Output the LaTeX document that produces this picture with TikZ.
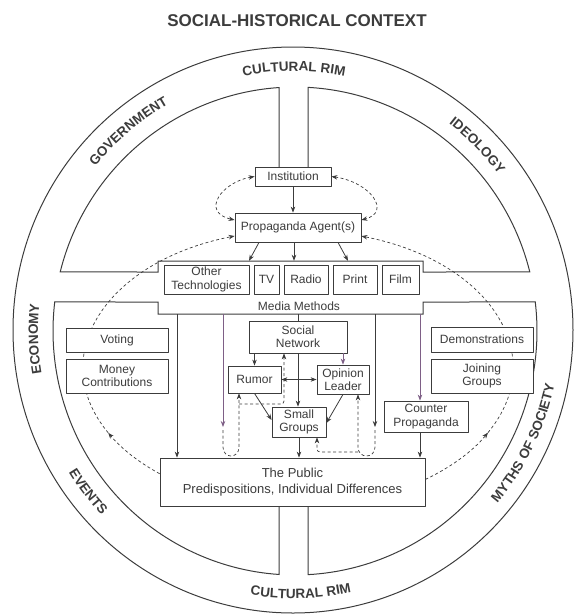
\documentclass[tikz,border=0pt]{standalone}
\usepackage{fontspec}
\setmainfont{Liberation Sans}
\usetikzlibrary{arrows.meta,decorations.text}
\definecolor{ink}{HTML}{3C3C3C}
\definecolor{plum}{HTML}{7E5F86}
\newcommand\rimfont{\fontsize{13.5}{13.5}\selectfont\bfseries}
\pgfdeclarelayer{bg}
\pgfsetlayers{bg,main}
\begin{document}
\begin{tikzpicture}[x=1pt,y=-1pt,line join=round,
  box/.style={draw=ink,line width=0.8pt,fill=white,rectangle,inner sep=0pt,align=center,text=ink,font=\fontsize{12}{13.3}\selectfont},
  arr/.style={draw=ink,line width=0.8pt,-{Stealth[length=6pt,width=4.5pt]}},
  dsh/.style={draw=ink,line width=0.7pt,dash pattern=on 3pt off 2.5pt},
  darr/.style={dsh,-{Stealth[length=6pt,width=4.5pt]}},
  dbarr/.style={dsh,{Stealth[length=6pt,width=4.5pt]}-{Stealth[length=6pt,width=4.5pt]}},
  quad/.style={draw=ink,line width=1pt},
  rim/.style={decorate,decoration={text along path,text align=center,text color=ink,text={#1}}}]
\useasboundingbox (0,0) rectangle (574,614);

% title
\node[font=\fontsize{17}{17}\selectfont\bfseries,text=ink] (title) at (297,21) {SOCIAL-HISTORICAL CONTEXT};

% nodes
\node[box,minimum width=76pt,minimum height=19pt] (inst) at (293,176.5) {Institution};
\node[box,minimum width=126pt,minimum height=29pt] (prop) at (298,227.5) {Propaganda Agent(s)};
\node[minimum width=265pt,minimum height=53pt,inner sep=0pt] (media) at (290.5,287.5) {};
\node[box,minimum width=85pt,minimum height=29pt] (other) at (206.5,279.5) {Other\\Technologies};
\node[box,minimum width=25pt,minimum height=29pt] (tv) at (266.5,279.5) {TV};
\node[box,minimum width=44pt,minimum height=29pt] (radio) at (306,279.5) {Radio};
\node[box,minimum width=44pt,minimum height=29pt] (print) at (355,279.5) {Print};
\node[box,minimum width=37pt,minimum height=29pt] (film) at (400.5,279.5) {Film};
\node[text=ink,font=\fontsize{12}{13.3}\selectfont] (mm) at (299,306) {Media Methods};
\node[box,minimum width=98pt,minimum height=32pt] (social) at (298,337) {Social\\Network};
\node[box,minimum width=53pt,minimum height=27pt] (rumor) at (254.5,379.5) {Rumor};
\node[box,minimum width=52pt,minimum height=29pt] (opinion) at (343,379.5) {Opinion\\Leader};
\node[box,minimum width=54pt,minimum height=30pt] (small) at (299,422) {Small\\Groups};
\node[box,minimum width=84pt,minimum height=31pt] (counter) at (426,416.5) {Counter\\Propaganda};
\node[box,minimum width=102pt,minimum height=24pt] (voting) at (117,340) {Voting};
\node[box,minimum width=102pt,minimum height=34pt] (money) at (117,376) {Money\\Contributions};
\node[box,minimum width=102pt,minimum height=25pt] (demo) at (482,339.5) {Demonstrations};
\node[box,minimum width=102pt,minimum height=34pt] (joining) at (482,376) {Joining\\Groups};
\node[box,minimum width=265pt,minimum height=48pt,font=\fontsize{13}{15.7}\selectfont] (public) at (292.5,482) {The Public\\Predispositions, Individual Differences};

% helper coordinates
\coordinate (xP) at (177,0);
\coordinate (xL) at (223,0);
\coordinate (xR) at (239,0);
\coordinate (xS) at (284,0);
\coordinate (xM) at (375,0);
\coordinate (xO) at (358,0);
\coordinate (xG) at (317,0);
\coordinate (xC) at (420,0);
\coordinate (aL) at (223,427);
\coordinate (aR) at (375,427);
\coordinate (lm) at (108.2,432.8);
\coordinate (rm) at (488,432.6);

\begin{pgfonlayer}{bg}
% outer rim
\draw[quad] (293,330) ellipse [x radius=280pt,y radius=283pt];
% upper quadrants with media band
\draw[quad] (279,167) -- plot[domain=266.21:194,samples=70] ({295+242*cos(\x)},{331+244*sin(\x)})
  -- (158,272) -- (158,261) -- (423,261) -- (423,272)
  -- plot[domain=346:273.08,samples=70] ({295+242*cos(\x)},{331+244*sin(\x)}) -- (308,167);
% lower quadrants
\draw[quad] (279,506) -- plot[domain=93.79:186.83,samples=70] ({295+242*cos(\x)},{331+244*sin(\x)})
  -- (158,302) -- (158,314) -- (423,314) -- (423,302)
  -- plot[domain=353.17:446.92,samples=70] ({295+242*cos(\x)},{331+244*sin(\x)}) -- (308,506);
% big dashed loops
\draw[darr] ([yshift=8.3pt]public.west) .. controls (138.7,462.3) and (121.2,448.4) .. (lm);
\draw[darr] (lm) .. controls (44.7,356.2) and (105.8,261.4) .. ([yshift=-8.5pt]prop.west);
\draw[darr] ([yshift=2.6pt]public.east) .. controls (451.3,467.1) and (472.8,451.1) .. (rm);
\draw[darr] (rm) .. controls (551.2,356) and (490.1,261.5) .. ([yshift=-8.6pt]prop.east);
\end{pgfonlayer}

% rim labels
\path[rim={|\rimfont|CULTURAL RIM}] plot[domain=230:310,samples=60] ({294+256*cos(\x)},{330+259*sin(\x)});
\path[rim={|\rimfont|GOVERNMENT}] plot[domain=190:270,samples=60] ({294+256*cos(\x)},{330+259*sin(\x)});
\path[rim={|\rimfont|IDEOLOGY}] plot[domain=275:355,samples=60] ({294+256*cos(\x)},{330+259*sin(\x)});
\path[rim={|\rimfont|ECONOMY}] plot[domain=138:218,samples=60] ({294+256*cos(\x)},{330+259*sin(\x)});
\path[rim={|\rimfont|EVENTS}] plot[domain=182:102,samples=60] ({294+266*cos(\x)},{330+268.5*sin(\x)});
\path[rim={|\rimfont|CULTURAL RIM}] plot[domain=128.5:48.5,samples=60] ({294+266*cos(\x)},{330+268.5*sin(\x)});
\path[rim={|\rimfont|MYTHS OF SOCIETY}] plot[domain=66:-14,samples=60] ({294+266*cos(\x)},{330+268.5*sin(\x)});

% small dashed loops
\draw[dbarr] (inst.west) .. controls (222,182) and (200,212) .. ([yshift=7.5pt]prop.west);
\draw[dbarr] (inst.east) .. controls (370,182) and (392,212) .. ([yshift=7.5pt]prop.east);

% solid arrows top
\draw[arr] (inst.south) -- (inst.south |- prop.north);
\draw[arr] ([xshift=-39pt]prop.south) -- ([xshift=-41.5pt]media.north);
\draw[arr] ([xshift=-4pt]prop.south) -- ([xshift=3.5pt]media.north);
\draw[arr] ([xshift=40pt]prop.south) -- ([xshift=57.5pt]media.north);

% arrows from media methods
\draw[arr] (media.south -| xP) -- (public.north -| xP);
\draw[arr,draw=plum] (media.south -| xL) -- (aL);
\draw[draw=ink,line width=0.8pt] (media.south -| social.north) -- (social.north);
\draw[arr] (media.south -| xM) -- (aR);
\draw[arr,draw=plum] (media.south -| xC) -- (counter.north -| xC);

% inner network
\draw[arr] (social.south -| rumor.north) -- (rumor.north);
\draw[arr,draw=plum] (social.south -| opinion.north) -- (opinion.north);
\draw[arr] (social.south) -- (social.south |- small.north);
\draw[arr,{Stealth[length=6pt,width=4.5pt]}-{Stealth[length=6pt,width=4.5pt]}] (rumor.east) -- (opinion.west);
\draw[arr] (rumor.south) -- ([yshift=2pt]small.west);
\draw[arr] (opinion.south) -- ([yshift=-1pt]small.east);
\draw[arr] (small.south) -- (small.south |- public.north);
\draw[arr] (counter.south -| xC) -- (public.north -| xC);

% dashed feedback loops
\draw[darr] ([yshift=-3pt]aL) -- (223,447) .. controls (223,459) and (239,459) .. (239,447) -- (rumor.south -| xR);
\draw[darr,rounded corners=3pt] (239,404) -- (284,404) -- (social.south -| xS);
\draw[darr] ([yshift=-3pt]aR) -- (375,447) .. controls (375,459) and (358,459) .. (358,447) -- (opinion.south -| xO);
\draw[darr,rounded corners=3pt] (358,452) -- (317,452) -- (small.south -| xG);
\end{tikzpicture}
\end{document}
